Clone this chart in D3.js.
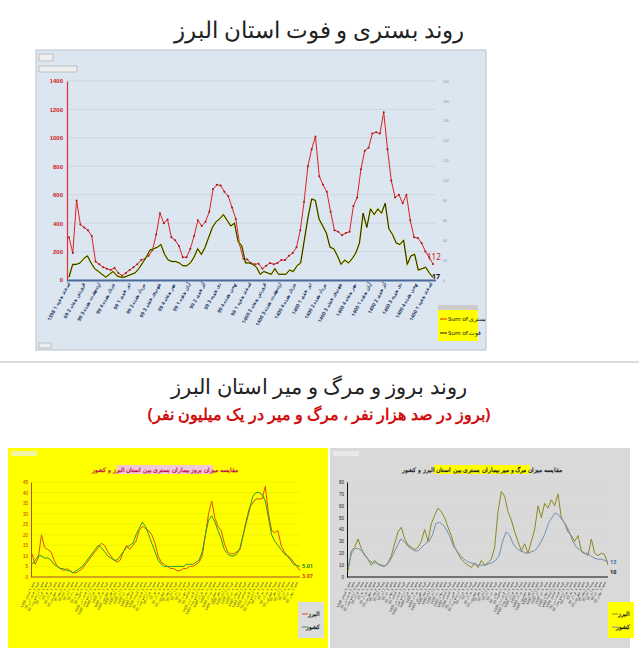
<!DOCTYPE html>
<html><head><meta charset="utf-8">
<script src="https://cdn.jsdelivr.net/npm/d3@7"></script>
<style>body{margin:0;background:#fff;font-family:"Noto Sans",sans-serif}</style>
</head><body><svg id="c" width="639" height="657"></svg>
<script>
// بستری / فوت (هفتگی)
const hosp = [300,190,560,390,370,350,310,130,110,90,80,70,85,50,30,50,70,90,110,140,150,170,210,320,470,400,425,300,280,240,160,160,220,310,420,380,410,480,640,670,665,620,590,510,430,250,150,145,120,110,115,80,100,120,110,120,140,140,170,190,230,350,550,800,920,1010,730,670,620,480,350,340,315,330,340,520,580,780,910,930,1030,1040,1030,1180,920,700,580,600,540,600,420,300,295,260,200,160,112];
const deaths = [20,110,110,120,150,170,120,80,60,40,20,40,60,30,20,20,30,40,50,80,120,160,210,220,230,250,180,140,130,130,120,100,100,120,160,220,180,230,300,370,410,430,460,420,380,400,270,240,120,120,110,90,40,60,50,40,80,40,40,40,70,60,100,120,280,440,570,560,430,380,330,230,220,170,110,140,120,150,190,260,470,370,500,460,500,470,540,360,320,260,250,280,110,170,180,70,80,90,50,17];
const leftTicks = [0,200,400,600,800,1000,1200,1400];
const rightTicks = [0,20,40,60,80,100,120,140,160,180,200];
const years = ['1398','99','99','99','99','99','99','99','99','99','99','99','99','1400','1400','1400','1400','1400','1400','1400','1400','1400','1400','1400','1400'];
const months = ['اسفند','فروردین','اردیبهشت','خرداد','تیر','مرداد','شهریور','مهر','آبان','آذر','دی','بهمن','اسفند','فروردین','اردیبهشت','خرداد','تیر','مرداد','شهریور','مهر','آبان','آذر','دی','بهمن','اسفند'];
// بروز در صد هزار نفر
const incAlborz = [11,6,9,20,14,13,12,8,5,4,3,4,3,2,2,3,4,6,8,10,12,14,16,15,12,10,8,7,8,12,15,13,15,17,22,24,23,22,20,16,10,7,6,5,4,4,3,3,4,4,5,5,6,7,10,20,30,36,28,24,22,16,12,11,11,12,13,20,27,33,35,37,37,37,43,30,22,21,22,15,12,10,9,7,5,3.07];
const incIran = [6,8,10,10,9,9,8,6,5,4,4,3,3,2,3,4,5,7,9,11,13,15,14,12,10,9,8,8,10,12,14,15,16,20,23,26,24,20,16,12,8,6,5,5,5,5,5,5,5,6,6,6,7,8,12,20,27,29,26,22,18,13,11,10,10,11,14,20,26,32,38,40,40,39,36,28,20,17,15,13,11,10,8,6,5.5,5.01];
const incTicks = [0,5,10,15,20,25,30,35,40,45];
// مرگ و میر در یک میلیون نفر
const mortAlborz = [5,22,25,32,24,18,15,10,14,11,10,9,12,18,28,38,42,32,27,25,23,25,30,40,30,45,52,58,55,50,42,35,25,20,15,12,10,8,12,8,14,10,12,15,25,55,72,68,55,48,38,30,22,28,20,30,40,60,50,62,58,65,60,70,50,45,38,35,30,35,22,20,18,32,20,18,20,19,10];
const mortIran = [8,20,24,24,22,18,14,12,12,10,9,10,14,20,26,32,30,26,24,22,22,25,28,30,35,45,46,44,40,34,26,22,18,15,13,12,11,10,10,10,11,12,14,18,30,38,35,28,24,22,21,20,21,22,25,30,36,45,50,54,52,48,44,38,30,25,23,20,20,18,16,15,15,14,13];
const mortTicks = [0,10,20,30,40,50,60,70,80];

const svg = d3.select('#c');

// عنوان بالا
svg.append('text').attr('x',319).attr('y',38).attr('text-anchor','middle')
  .attr('font-size',23).attr('fill','#222').text('روند بستری و فوت استان البرز');

// پنل نمودار بالا
svg.append('rect').attr('x',36).attr('y',50).attr('width',450).attr('height',300).attr('fill','#dce6f1').attr('stroke','#b8c4d0');
svg.append('rect').attr('x',39).attr('y',54).attr('width',14).attr('height',7).attr('fill','#eee').attr('stroke','#999').attr('stroke-width',0.5);
svg.append('rect').attr('x',39).attr('y',66).attr('width',38).attr('height',6).attr('fill','#eee').attr('stroke','#999').attr('stroke-width',0.5);
svg.append('rect').attr('x',39).attr('y',343).attr('width',12).attr('height',5).attr('fill','#eee').attr('stroke','#999').attr('stroke-width',0.5);

const x1 = d3.scaleLinear().domain([0, hosp.length-1]).range([69, 433]);
const xd = d3.scaleLinear().domain([0, deaths.length-1]).range([69, 433]);
const y1 = d3.scaleLinear().domain([0,1400]).range([280, 81]);
const yr = d3.scaleLinear().domain([0,200]).range([280, 81]);

const g1 = svg.append('g');
leftTicks.forEach(t => {
  g1.append('line').attr('x1',67).attr('x2',436).attr('y1',y1(t)).attr('y2',y1(t)).attr('stroke','#c6d0dc').attr('stroke-width',0.7);
});
const la = g1.append('g').attr('transform','translate(67,0)').call(d3.axisLeft(y1).tickValues(leftTicks).tickFormat(d3.format('d')).tickSize(0).tickPadding(4));
la.select('.domain').attr('stroke','#e03030').attr('stroke-width',1.2);
la.selectAll('text').attr('fill','#d02020').attr('font-size',6).attr('font-weight','bold');
const ra = g1.append('g').attr('transform','translate(441,0)').call(d3.axisRight(yr).tickValues(rightTicks).tickSize(0).tickPadding(2));
ra.select('.domain').remove();
ra.selectAll('text').attr('fill','#8a96a6').attr('font-size',3.5);
g1.append('line').attr('x1',67).attr('x2',436).attr('y1',y1(0)+0.5).attr('y2',y1(0)+0.5).attr('stroke','#4a6a9a').attr('stroke-width',2);

// برچسب‌های محور افقی
years.forEach((yr_, i) => {
  const xx = 70 + i * (362/(years.length-1));
  g1.append('text').attr('transform',`translate(${xx},284) rotate(-62)`).attr('text-anchor','end')
    .attr('font-size',5).attr('fill','#2a3f6a').attr('font-weight','bold').text(`${yr_} ${months[i]} هفته ${(i%4)+1}`);
});

g1.append('path').datum(hosp).attr('fill','none').attr('stroke','#e02020').attr('stroke-width',1)
  .attr('d', d3.line().x((d,i)=>x1(i)).y(d=>y1(d)));
g1.selectAll('.hp').data(hosp).join('circle').attr('cx',(d,i)=>x1(i)).attr('cy',d=>y1(d)).attr('r',1).attr('fill','#a01818');
g1.append('path').datum(deaths).attr('fill','none').attr('stroke','#c8d000').attr('stroke-width',1.6)
  .attr('d', d3.line().x((d,i)=>xd(i)).y(d=>y1(d)));
g1.append('path').datum(deaths).attr('fill','none').attr('stroke','#111').attr('stroke-width',0.9)
  .attr('d', d3.line().x((d,i)=>xd(i)).y(d=>y1(d)));
g1.append('text').attr('x',427).attr('y',y1(hosp[hosp.length-1])-4).attr('font-size',8).attr('fill','#d02020').text(hosp[hosp.length-1]);
g1.append('text').attr('x',432).attr('y',y1(deaths[deaths.length-1])+1).attr('font-size',7).attr('font-weight','bold').attr('fill','#111').text(deaths[deaths.length-1]);

// لژند
const lg = svg.append('g').attr('transform','translate(438,305)');
lg.append('rect').attr('width',40).attr('height',36).attr('fill','#ffff00');
lg.append('rect').attr('width',40).attr('height',5).attr('fill','#ccc');
[['بستری','#e02020'],['فوت','#111']].forEach((s,i)=>{
  const yy = 14 + i*14;
  lg.append('line').attr('x1',2).attr('x2',9).attr('y1',yy).attr('y2',yy).attr('stroke',s[1]).attr('stroke-width',1);
  lg.append('text').attr('x',10).attr('y',yy+2).attr('font-size',6).attr('fill','#111').text('Sum of ' + s[0]);
});

// جداکننده
svg.append('line').attr('x1',0).attr('x2',639).attr('y1',362).attr('y2',362).attr('stroke','#bbb');

svg.append('text').attr('x',319).attr('y',394).attr('text-anchor','middle').attr('font-size',21).attr('fill','#222')
  .text('روند بروز و مرگ و میر استان البرز');
svg.append('text').attr('x',319).attr('y',420).attr('text-anchor','middle').attr('font-size',16).attr('font-weight','bold').attr('fill','#d01010')
  .text('(بروز در صد هزار نفر ، مرگ و میر در یک میلیون نفر)');

// نمودارهای پایین
function smallChart(o) {
  const g = svg.append('g');
  g.append('rect').attr('x',o.x0).attr('y',448).attr('width',o.w).attr('height',200).attr('fill',o.bg);
  g.append('rect').attr('x',o.x0+3).attr('y',451).attr('width',26).attr('height',5).attr('fill','#eee').attr('opacity',0.7);
  g.append('rect').attr('x',o.titleX-48).attr('y',465).attr('width',96).attr('height',9).attr('fill',o.titleBg);
  g.append('text').attr('x',o.titleX).attr('y',472).attr('text-anchor','middle').attr('font-size',6).attr('font-weight','bold').attr('fill',o.titleFill).text(o.title);
  const ys = d3.scaleLinear().domain([0, o.max]).range([577, 482]);
  o.ticks.forEach(t => g.append('line').attr('x1',o.ax).attr('x2',o.end).attr('y1',ys(t)).attr('y2',ys(t)).attr('stroke',o.grid).attr('stroke-width',0.5));
  const a = g.append('g').attr('transform',`translate(${o.ax},0)`).call(d3.axisLeft(ys).tickValues(o.ticks).tickSize(0).tickPadding(3));
  a.select('.domain').attr('stroke',o.axis).attr('stroke-width',1);
  a.selectAll('text').attr('font-size',4.5).attr('fill',o.tickFill);
  g.append('line').attr('x1',o.ax).attr('x2',o.end).attr('y1',577).attr('y2',577).attr('stroke',o.axis).attr('stroke-width',1.2);
  o.series.forEach(s => {
    const xs = d3.scaleLinear().domain([0, s.data.length-1]).range([o.ax+1, o.end]);
    g.append('path').datum(s.data).attr('fill','none').attr('stroke',s.color).attr('stroke-width',1)
      .attr('d', d3.line().x((d,i)=>xs(i)).y(d=>ys(d)));
  });
  for (let i = 0; i < 62; i++) {
    const xx = o.ax + 4 + i * ((o.end - o.ax - 6)/61);
    g.append('text').attr('transform',`translate(${xx},582) rotate(-65)`).attr('text-anchor','end')
      .attr('font-size',3.5).attr('fill',o.labFill).text(`${years[i%years.length]} هفته ${(i%4)+1} ${months[i%months.length]}`);
  }
  o.endLabels.forEach(l => g.append('text').attr('x',o.end+2).attr('y',ys(l.v)+2).attr('font-size',5.5).attr('font-weight','bold').attr('fill',l.c).text(l.t));
  const lg = g.append('g').attr('transform',`translate(${o.legX},602)`);
  lg.append('rect').attr('width',26).attr('height',36).attr('fill',o.legBg);
  o.series.forEach((s,i) => {
    lg.append('text').attr('x',22).attr('y',14+i*13).attr('text-anchor','end').attr('font-size',6).attr('font-weight','bold').attr('fill','#222').text(s.name);
    lg.append('line').attr('x1',4).attr('x2',10).attr('y1',12+i*13).attr('y2',12+i*13).attr('stroke',s.color);
  });
}

smallChart({x0:8,w:320,bg:'#ffff00',titleX:165,titleBg:'#f2c8d8',titleFill:'#c01050',
  title:'مقایسه میزان بروز بیماران بستری بین استان البرز و کشور',
  max:45,ticks:incTicks,ax:31,end:300,grid:'#e6e600',axis:'#b05030',tickFill:'#c03000',labFill:'#444',
  series:[{data:incAlborz,color:'#e05010',name:'البرز'},{data:incIran,color:'#2a9a30',name:'کشور'}],
  endLabels:[{v:5.01,t:'5.01',c:'#2a8a20'},{v:0.5,t:'3.07',c:'#d04010'}],legX:298,legBg:'#dcdcdc'});

smallChart({x0:330,w:300,bg:'#d9d9d9',titleX:482,titleBg:'#ffff00',titleFill:'#222',
  title:'مقایسه میزان مرگ و میر بیماران بستری بین استان البرز و کشور',
  max:80,ticks:mortTicks,ax:347,end:608,grid:'#d0d0d0',axis:'#111',tickFill:'#222',labFill:'#333',
  series:[{data:mortAlborz,color:'#8a8a20',name:'البرز'},{data:mortIran,color:'#7090b0',name:'کشور'}],
  endLabels:[{v:13,t:'13',c:'#4070b0'},{v:4,t:'10',c:'#111'}],legX:608,legBg:'#ffff00'});
</script></body></html>
